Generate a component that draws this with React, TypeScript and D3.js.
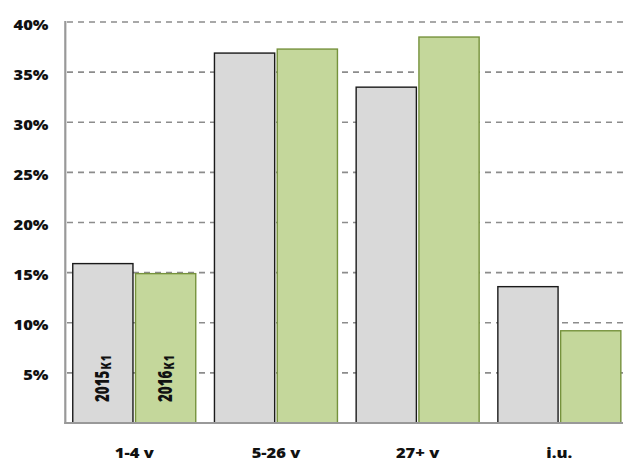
import React from 'react';
import * as d3 from 'd3';

const categories = ['1-4 v', '5-26 v', '27+ v', 'i.u.'];
const seriesKeys = ['2015', '2016'];
const seriesSub = ['K1', 'K1'];
const values2015 = [15.9, 36.9, 33.5, 13.6];
const values2016 = [14.9, 37.3, 38.5, 9.2];
const yTicks = [5, 10, 15, 20, 25, 30, 35, 40];
const yTickLabels = ['5%', '10%', '15%', '20%', '25%', '30%', '35%', '40%'];

const W = 623;
const H = 460;
const FONT = '"Open Sans", "DejaVu Sans", sans-serif';
const SX = 1.18;
const SXR = 1.4;
const fills = ['#d9d9d9', '#c4d79b'];
const strokes = ['#1a1a1a', '#76923c'];

export default function App() {
  const seriesValues = [values2015, values2016];
  const y = d3.scaleLinear().domain([0, 40]).range([423, 22]);
  const x = d3
    .scaleBand<string>()
    .domain(categories)
    .range([63.4, 630.2])
    .paddingInner(0.132)
    .paddingOuter(0.066);
  const xs = d3
    .scaleBand<string>()
    .domain(seriesKeys)
    .range([0, x.bandwidth()])
    .paddingInner(0.0407);

  return (
    <svg
      width={W}
      height={H}
      style={{ position: 'absolute', left: 0, top: 0, display: 'block', background: '#fff' }}
    >
      <rect x={0} y={0} width={W} height={H} fill="#fff" />
      {yTicks.map((t) => (
        <line
          key={'g' + t}
          x1={67}
          x2={W}
          y1={y(t)}
          y2={y(t)}
          stroke="#8c8c8c"
          strokeWidth={1.6}
          strokeDasharray="6 5"
        />
      ))}
      {categories.map((c, i) => (
        <g key={c}>
          {seriesKeys.map((s, j) => {
            const v = seriesValues[j][i];
            const bx = (x(c) as number) + (xs(s) as number);
            return (
              <rect
                key={s}
                x={bx}
                y={y(v)}
                width={xs.bandwidth()}
                height={y(0) - y(v)}
                fill={fills[j]}
                stroke={strokes[j]}
                strokeWidth={1.4}
              />
            );
          })}
        </g>
      ))}
      {seriesKeys.map((s, j) => {
        const cx = (x(categories[0]) as number) + (xs(s) as number) + xs.bandwidth() / 2 + 6.5;
        return (
          <text
            key={'lab' + s}
            transform={`translate(${cx},${402}) rotate(-90) scale(1,${SXR})`}
            fontFamily={FONT}
            fontWeight={800}
            fontSize={13.4}
            fill="#111"
          >
            {s}
            <tspan fontSize={10.5} dy={1.2} dx={1} letterSpacing={1.2}>
              {seriesSub[j]}
            </tspan>
          </text>
        );
      })}
      <line x1={65.3} x2={65.3} y1={21} y2={424} stroke="#999" strokeWidth={2.2} />
      <line x1={64.2} x2={W} y1={423} y2={423} stroke="#999" strokeWidth={2.2} />
      {yTicks.map((t, i) => (
        <text
          key={'yl' + t}
          transform={`translate(48.5,${y(t) + 7.5}) scale(${SX},1)`}
          textAnchor="end"
          fontFamily={FONT}
          fontWeight={800}
          fontSize={14}
          fill="#111"
        >
          {yTickLabels[i]}
        </text>
      ))}
      {categories.map((c) => (
        <text
          key={'xl' + c}
          transform={`translate(${(x(c) as number) + x.bandwidth() / 2},457.5) scale(${SX},1)`}
          textAnchor="middle"
          fontFamily={FONT}
          fontWeight={800}
          fontSize={14}
          fill="#111"
        >
          {c}
        </text>
      ))}
    </svg>
  );
}
